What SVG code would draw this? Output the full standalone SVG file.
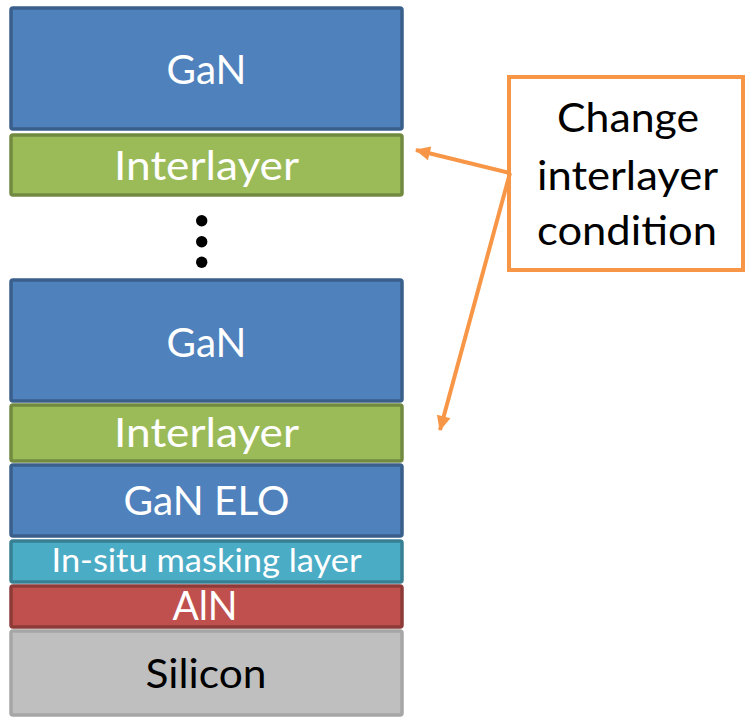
<svg xmlns="http://www.w3.org/2000/svg" width="746" height="718" viewBox="0 0 746 718">
<style>
.layer{stroke-width:3.5}
.gan{fill:#4F81BD;stroke:#3A5F8B}
.inter{fill:#9BBB59;stroke:#728A40}
.mask{fill:#4BACC6;stroke:#377F92}
.aln{fill:#C0504D;stroke:#8D3B38}
.si{fill:#BFBFBF;stroke:#A6A6A6}
.t{font-family:Lato,"Open Sans","Liberation Sans",sans-serif;text-anchor:middle}
.w{fill:#FFFFFF}
.k{fill:#000000}
.conn{stroke:#F79646;stroke-width:4;fill:none}
</style>
<defs>
<marker id="ah" markerUnits="userSpaceOnUse" markerWidth="20" markerHeight="20" viewBox="0 0 20 20" refX="16" refY="10" orient="auto">
<path d="M2,3 L17,10 L2,17 Z" fill="#F79646"/>
</marker>
</defs>
<g id="gan-top">
<rect class="layer gan" x="11" y="8" width="391" height="121" rx="2"/>
<text class="t w" x="206.5" y="84" font-size="41" textLength="80" lengthAdjust="spacingAndGlyphs">GaN</text>
</g>
<g id="interlayer-top">
<rect class="layer inter" x="11" y="135" width="391" height="60" rx="2"/>
<text class="t w" x="206.5" y="180" font-size="40" textLength="185" lengthAdjust="spacingAndGlyphs">Interlayer</text>
</g>
<g id="dots">
<circle cx="201.7" cy="220.7" r="5.7" fill="#000"/>
<circle cx="201.7" cy="241.7" r="5.7" fill="#000"/>
<circle cx="201.7" cy="262.3" r="5.7" fill="#000"/>
</g>
<g id="gan-mid">
<rect class="layer gan" x="11" y="280" width="391" height="121" rx="2"/>
<text class="t w" x="206.5" y="357" font-size="41" textLength="80" lengthAdjust="spacingAndGlyphs">GaN</text>
</g>
<g id="interlayer-mid">
<rect class="layer inter" x="11" y="405" width="391" height="56" rx="2"/>
<text class="t w" x="206.5" y="447" font-size="40" textLength="185" lengthAdjust="spacingAndGlyphs">Interlayer</text>
</g>
<g id="gan-elo">
<rect class="layer gan" x="11" y="465" width="391" height="71" rx="2"/>
<text class="t w" x="206.5" y="515" font-size="41" textLength="166" lengthAdjust="spacingAndGlyphs">GaN ELO</text>
</g>
<g id="masking">
<rect class="layer mask" x="11" y="541" width="391" height="41" rx="2"/>
<text class="t w" x="206.5" y="572" font-size="32" textLength="310" lengthAdjust="spacingAndGlyphs">In-situ masking layer</text>
</g>
<g id="aln">
<rect class="layer aln" x="11" y="586" width="391" height="41" rx="2"/>
<text class="t w" x="205" y="620" font-size="40" textLength="65" lengthAdjust="spacingAndGlyphs">AlN</text>
</g>
<g id="silicon">
<rect class="layer si" x="11" y="631" width="391" height="84" rx="2"/>
<text class="t k" x="206" y="688" font-size="41" textLength="121" lengthAdjust="spacingAndGlyphs">Silicon</text>
</g>
<g id="callout">
<rect x="509" y="77" width="234" height="193" fill="#FFFFFF" stroke="#F79646" stroke-width="4"/>
<text class="t k" x="628" y="132" font-size="40" textLength="142" lengthAdjust="spacingAndGlyphs">Change</text>
<text class="t k" x="627.5" y="190" font-size="40" textLength="181" lengthAdjust="spacingAndGlyphs">interlayer</text>
<text class="t k" x="627" y="245" font-size="40" textLength="180" lengthAdjust="spacingAndGlyphs">condition</text>
</g>
<g id="connectors">
<line class="conn" x1="510" y1="173" x2="416" y2="150" marker-end="url(#ah)"/>
<line class="conn" x1="510" y1="173" x2="440" y2="430" marker-end="url(#ah)"/>
</g>
</svg>
